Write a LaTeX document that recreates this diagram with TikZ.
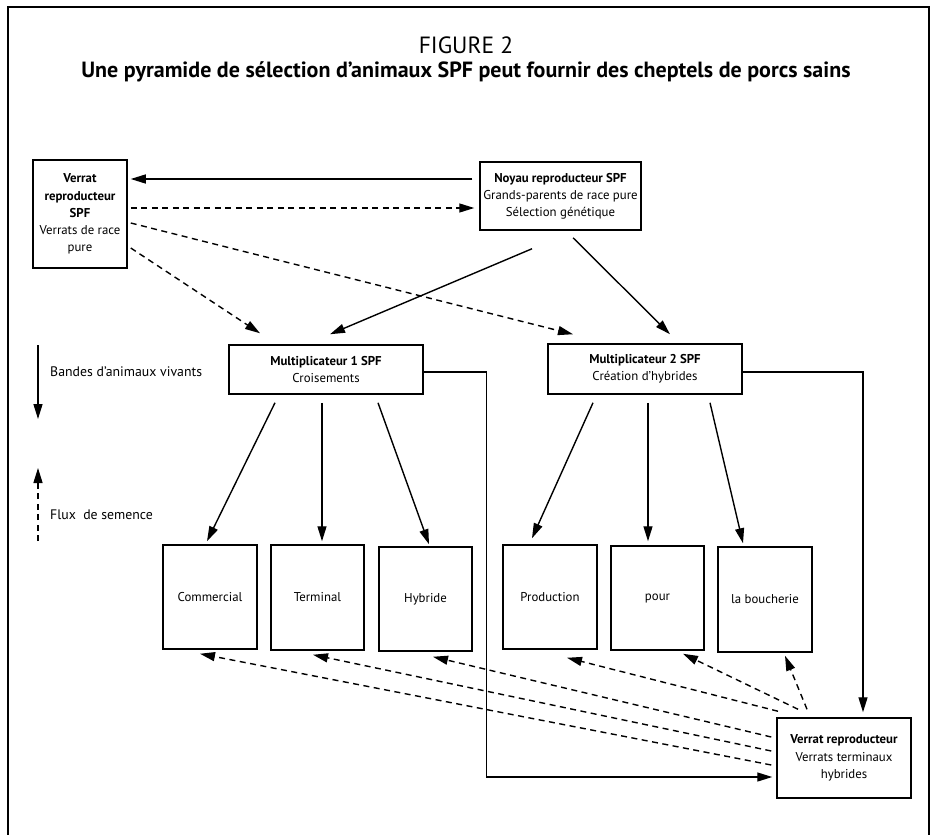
\documentclass[tikz,border=0pt]{standalone}
\usepackage{fontspec}
\setmainfont{PT Sans}
\usetikzlibrary{arrows.meta,calc}
\begin{document}
\begin{tikzpicture}[x=1pt,y=-1pt,
  box/.style={draw,line width=1.5pt,inner sep=0pt,align=center,font=\fontsize{12.8}{17.2}\selectfont},
  txt/.style={inner sep=0pt,font=\fontsize{13.8}{16}\selectfont},
  arr/.style={line width=1.4pt,-{Triangle[length=15pt,width=9pt]}},
  darr/.style={arr,dash pattern=on 6pt off 4.5pt},
  conn/.style={line width=1.4pt}]
\useasboundingbox (0,0) rectangle (932,835);
% frame
\draw[line width=1.8pt] (8,835) -- (8,7) -- (929,7) -- (929,835);
% title
\node[inner sep=0pt,font=\fontsize{23.5}{26}\selectfont] (fig) at (466,45) {FIGURE 2};
\node[inner sep=0pt,font=\fontsize{22}{26}\selectfont\bfseries] (title) at (466,72) {Une pyramide de sélection d’animaux SPF peut fournir des cheptels de porcs sains};
% boxes
\node[box,minimum width=94pt,minimum height=108pt] (v1) at (80,214) {\textbf{Verrat}\\\textbf{reproducteur}\\\textbf{SPF}\\Verrats de race\\pure};
\node[box,minimum width=161pt,minimum height=68pt] (noy) at (560.5,196) {\textbf{Noyau reproducteur SPF}\\Grands-parents de race pure\\Sélection génétique};
\node[box,minimum width=194pt,minimum height=49pt] (m1) at (326,369.5) {\textbf{Multiplicateur 1 SPF}\\Croisements};
\node[box,minimum width=194pt,minimum height=50pt] (m2) at (645,369) {\textbf{Multiplicateur 2 SPF}\\Création d’hybrides};
\node[box,minimum width=94pt,minimum height=104pt] (com) at (210,597) {Commercial};
\node[box,minimum width=93pt,minimum height=105pt] (ter) at (317.5,597.5) {Terminal};
\node[box,minimum width=93pt,minimum height=104pt] (hyb) at (425.5,599) {Hybride};
\node[box,minimum width=94pt,minimum height=104pt] (pro) at (550,597) {Production};
\node[box,minimum width=93pt,minimum height=104pt] (pou) at (657.5,598) {pour};
\node[box,minimum width=94pt,minimum height=105pt] (bou) at (765,599.5) {la boucherie};
\node[box,minimum width=134pt,minimum height=80pt] (v2) at (844,758) {\textbf{Verrat reproducteur}\\Verrats terminaux\\hybrides};
% legend
\coordinate (l1a) at (38,345);
\coordinate (l1b) at (38,419);
\coordinate (l2a) at (38,541);
\coordinate (l2b) at (38,468);
\draw[arr] (l1a) -- (l1b);
\draw[darr] (l2a) -- (l2b);
\node[txt,anchor=west] (leg1) at (50,372) {Bandes d’animaux vivants};
\node[txt,anchor=west] (leg2) at (50,515) {Flux\ \ de semence};
% top connectors
\draw[arr] ([shift={(-7,-17)}]noy.west) -- ([shift={(3,-35)}]v1.east);
\draw[darr] ([shift={(3,-6)}]v1.east) -- ([shift={(-5,12)}]noy.west);
\draw[darr] ([shift={(3,9)}]v1.east) -- ([shift={(-72,-9)}]m2.north);
\draw[darr] ([shift={(3,34)}]v1.east) -- ([shift={(-66,-11)}]m1.north);
\draw[arr] ([shift={(-28.5,18)}]noy.south) -- ([shift={(4,-10)}]m1.north);
\draw[arr] ([shift={(12.5,7)}]noy.south) -- ([shift={(25,-9)}]m2.north);
% to verrat 2
\draw[conn,-{Triangle[length=15pt,width=9pt]}] ([shift={(0,2.5)}]m1.east) -- ++(63,0) |- ([shift={(-4,19)}]v2.west);
\draw[conn,-{Triangle[length=15pt,width=9pt]}] ([shift={(0,3)}]m2.east) -| ([shift={(19,-5)}]v2.north);
% children of m1
\draw[arr] ([shift={(-51,8)}]m1.south) -- ([shift={(-3,-3)}]com.north);
\draw[arr] ([shift={(-4,8)}]m1.south) -- ([shift={(4.5,-3)}]ter.north);
\draw[arr] ([shift={(52,8)}]m1.south) -- ([shift={(3.5,-2)}]hyb.north);
% children of m2
\draw[arr] ([shift={(-52,8)}]m2.south) -- ([shift={(-18,-6)}]pro.north);
\draw[arr] ([shift={(3,8)}]m2.south) -- ([shift={(-9.5,-4)}]pou.north);
\draw[arr] ([shift={(65,8)}]m2.south) -- ([shift={(-22,-3)}]bou.north);
% semen flows from verrat 2
\draw[darr] ([shift={(-37,-8)}]v2.north) -- ([shift={(20,3)}]bou.south);
\draw[darr] ([shift={(-46,-8)}]v2.north) -- ([shift={(25.5,3)}]pou.south);
\draw[darr] ([shift={(-66,-6)}]v2.north) -- ([shift={(17,8)}]pro.south);
\draw[darr] ([shift={(-5,-21)}]v2.west) -- ([shift={(7.5,5)}]hyb.south);
\draw[darr] ([shift={(-5,-7)}]v2.west) -- ([shift={(-4.5,4)}]ter.south);
\draw[darr] ([shift={(-5,7)}]v2.west) -- ([shift={(-10,4)}]com.south);
\end{tikzpicture}
\end{document}
